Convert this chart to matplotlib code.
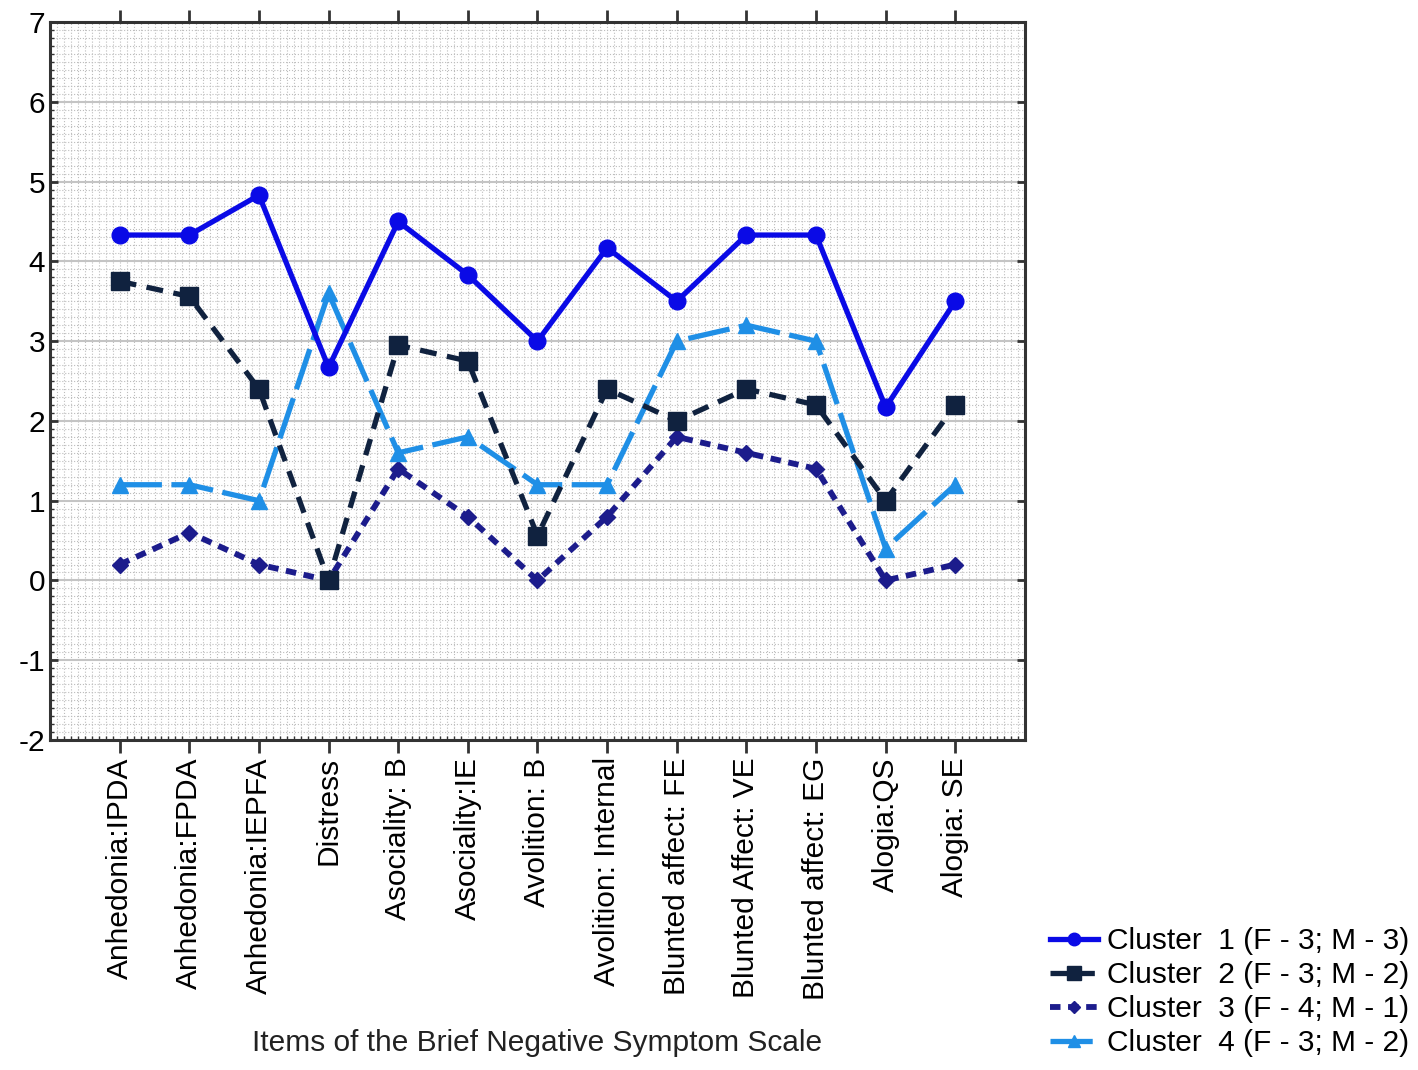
import matplotlib
matplotlib.use("Agg")
import matplotlib.pyplot as plt
from matplotlib.ticker import MultipleLocator

plt.rcParams['font.family'] = ['Liberation Sans', 'DejaVu Sans']
plt.rcParams['axes.unicode_minus'] = False

# 数据
items = ['Anhedonia:IPDA', 'Anhedonia:FPDA', 'Anhedonia:IEPFA', 'Distress', 'Asociality: B',
         'Asociality:IE', 'Avolition: B', 'Avolition: Internal', 'Blunted affect: FE',
         'Blunted Affect: VE', 'Blunted affect: EG', 'Alogia:QS', 'Alogia: SE']
cluster1 = [4.33, 4.33, 4.83, 2.67, 4.5, 3.83, 3.0, 4.17, 3.5, 4.33, 4.33, 2.17, 3.5]
cluster2 = [3.75, 3.56, 2.4, 0.0, 2.95, 2.75, 0.56, 2.4, 2.0, 2.4, 2.2, 1.0, 2.2]
cluster3 = [0.2, 0.6, 0.2, 0.0, 1.4, 0.8, 0.0, 0.8, 1.8, 1.6, 1.4, 0.0, 0.2]
cluster4 = [1.2, 1.2, 1.0, 3.6, 1.6, 1.8, 1.2, 1.2, 3.0, 3.2, 3.0, 0.4, 1.2]
labels = ['Cluster  1 (F - 3; M - 3)', 'Cluster  2 (F - 3; M - 2)',
          'Cluster  3 (F - 4; M - 1)', 'Cluster  4 (F - 3; M - 2)']

fig = plt.figure(figsize=(14.18, 10.70), dpi=100)
ax = fig.add_axes([0.0353, 0.3084, 0.6875, 0.671])

x = list(range(len(items)))
ax.plot(x, cluster1, color='#0a0ae6', lw=3.8, marker='o', ms=12, label=labels[0], zorder=5)
ax.plot(x, cluster2, color='#10223f', lw=3.8, marker='s', ms=13, dashes=(3.2, 2.0), label=labels[1], zorder=4)
ax.plot(x, cluster3, color='#1c1c8c', lw=4.2, marker='D', ms=8.5, dashes=(1.8, 1.3), label=labels[2], zorder=3)
ax.plot(x, cluster4, color='#1f8fe6', lw=3.8, marker='^', ms=11, dashes=(8, 1.8), label=labels[3], zorder=3)

ax.set_xlim(-1, 13)
ax.set_ylim(-2, 7)
ax.set_xticks(x)
ax.set_xticklabels(items, rotation=90, fontsize=21.5)
ax.yaxis.set_major_locator(MultipleLocator(1))
ax.yaxis.set_minor_locator(MultipleLocator(0.1))
ax.xaxis.set_minor_locator(MultipleLocator(0.1))
ax.tick_params(axis='y', labelsize=21.5)

# 网格
ax.grid(which='minor', color='#bdbdbd', linestyle=':', lw=0.8)
ax.grid(which='major', axis='x', color='#bdbdbd', linestyle=':', lw=0.8)
ax.grid(which='major', axis='y', color='#c4c4c4', linestyle='-', lw=1.5)
ax.set_axisbelow(True)

ax.tick_params(which='major', top=True, right=True, direction='in', length=6, width=2, color='#333333')
ax.tick_params(which='major', axis='x', bottom=True, direction='out', length=9)
ax.tick_params(which='minor', left=True, right=False, top=False, bottom=True, direction='in', length=3, width=1,
               color='#333333')
for s in ax.spines.values():
    s.set_linewidth(2.2)
    s.set_color('#333333')

ax.set_xlabel('Items of the Brief Negative Symptom Scale', fontsize=21.5, labelpad=21, color='#222222')

fig.legend(loc='lower right', bbox_to_anchor=(1.0127, -0.013), fontsize=21.5, frameon=False,
           handlelength=1.6, handletextpad=0.3, labelspacing=0.2, numpoints=1, markerscale=0.75)

fig.savefig('out.png', dpi=100)
